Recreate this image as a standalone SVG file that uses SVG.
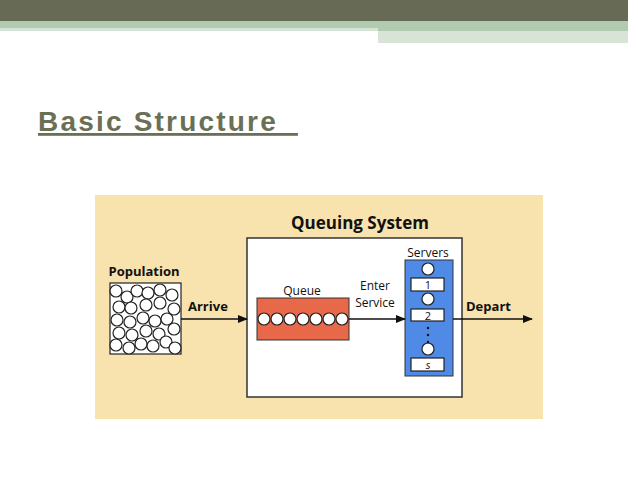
<svg xmlns="http://www.w3.org/2000/svg" width="638" height="479" viewBox="0 0 638 479">
<style>
.t{font-family:"Open Sans","Liberation Sans",sans-serif;fill:#111}
.b{font-weight:bold}
.c{fill:#fff;stroke:#222;stroke-width:1.2}
.ln{stroke:#111;stroke-width:1.5;fill:none}
</style>
<defs><marker id="ah" markerWidth="10" markerHeight="8" refX="9" refY="4" orient="auto" markerUnits="userSpaceOnUse"><path d="M0,0L10,4L0,8z" fill="#111"/></marker></defs>
<rect width="638" height="479" fill="#fff"/>
<rect x="0" y="0" width="628" height="21" fill="#676a55"/>
<rect x="0" y="21" width="628" height="10" fill="#b0cbb0"/>
<rect x="0" y="28" width="378" height="3" fill="#d4e3d4"/>
<rect x="378" y="31" width="250" height="12" fill="#d7e4d6"/>
<text x="38" y="131" style="font-family:'Liberation Sans',sans-serif;font-size:28px;font-weight:bold;fill:#6a7055;letter-spacing:2.2px" text-decoration="underline" xml:space="preserve">Basic Structure  </text>
<rect x="95" y="195" width="448" height="224" fill="#f8e2ae"/>
<g id="system"><rect x="247" y="238" width="215" height="159" fill="#fff" stroke="#333" stroke-width="1.5"/>
<text x="360" y="229" class="t b" font-size="17" text-anchor="middle">Queuing System</text></g>
<g id="population"><text x="144" y="276" class="t b" font-size="13" text-anchor="middle">Population</text>
<rect x="110" y="283" width="71" height="71" fill="#fff" stroke="#222" stroke-width="1.2"/>
<g class="c">
<circle cx="116" cy="291" r="6"/><circle cx="127" cy="297" r="6"/><circle cx="137" cy="291" r="6"/><circle cx="148" cy="293" r="6"/><circle cx="160" cy="290" r="6"/><circle cx="172" cy="295" r="6"/>
<circle cx="119" cy="307" r="6"/><circle cx="131" cy="308" r="6"/><circle cx="146" cy="305" r="6"/><circle cx="160" cy="303" r="6"/><circle cx="174" cy="309" r="6"/>
<circle cx="117" cy="320" r="6"/><circle cx="130" cy="322" r="6"/><circle cx="143" cy="318" r="6"/><circle cx="155" cy="321" r="6"/><circle cx="167" cy="319" r="6"/>
<circle cx="119" cy="333" r="6"/><circle cx="132" cy="335" r="6"/><circle cx="146" cy="331" r="6"/><circle cx="159" cy="334" r="6"/><circle cx="174" cy="329" r="6"/>
<circle cx="116" cy="345" r="6"/><circle cx="129" cy="348" r="6"/><circle cx="141" cy="344" r="6"/><circle cx="153" cy="346" r="6"/><circle cx="166" cy="342" r="6"/><circle cx="175" cy="348" r="6"/>
</g></g>
<g id="queue"><text x="302" y="295" class="t" font-size="12" text-anchor="middle">Queue</text>
<rect x="257" y="298" width="92" height="42" fill="#e8684a" stroke="#333"/>
<g class="c"><circle cx="264" cy="319" r="6"/><circle cx="277" cy="319" r="6"/><circle cx="290" cy="319" r="6"/><circle cx="303" cy="319" r="6"/><circle cx="316" cy="319" r="6"/><circle cx="329" cy="319" r="6"/><circle cx="342" cy="319" r="6"/></g></g>
<g id="servers"><text x="428" y="257" class="t" font-size="12" text-anchor="middle">Servers</text>
<rect x="405" y="260" width="48" height="116" fill="#4f8ae6" stroke="#333"/>
<g class="c"><circle cx="428" cy="269" r="6"/><circle cx="428" cy="299" r="6"/><circle cx="428" cy="349" r="6"/>
<rect x="411" y="278" width="33" height="13"/><rect x="411" y="309" width="33" height="12"/><rect x="411" y="358" width="33" height="13"/></g>
<g class="t" font-size="11" text-anchor="middle"><text x="428" y="289">1</text><text x="428" y="320">2</text><text x="428" y="369" font-style="italic">s</text></g>
<g fill="#111"><circle cx="428" cy="328" r="1.2"/><circle cx="428" cy="335" r="1.2"/><circle cx="428" cy="342" r="1.2"/></g></g>
<g id="connectors">
<line x1="181" y1="319" x2="247" y2="319" class="ln" marker-end="url(#ah)"/>
<line x1="349" y1="319" x2="405" y2="319" class="ln" marker-end="url(#ah)"/>
<line x1="453" y1="319" x2="532" y2="319" class="ln" marker-end="url(#ah)"/>
<text x="188" y="311" class="t b" font-size="13">Arrive</text>
<text x="375" y="290" class="t" font-size="12" text-anchor="middle">Enter</text>
<text x="375" y="307" class="t" font-size="12" text-anchor="middle">Service</text>
<text x="466" y="311" class="t b" font-size="13">Depart</text>
</g>
</svg>
